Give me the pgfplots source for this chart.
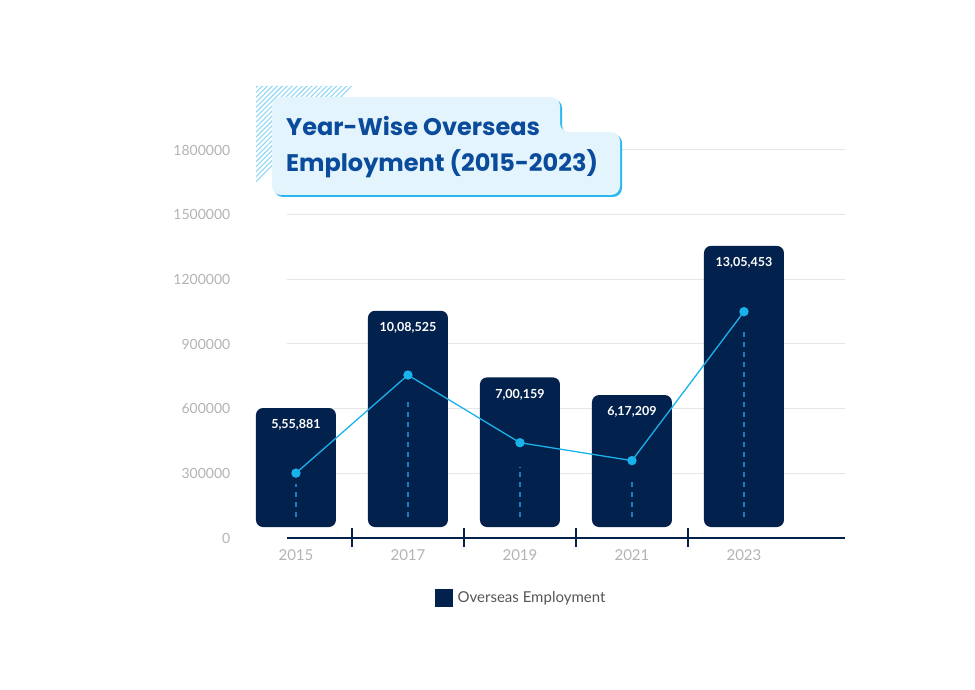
\documentclass[border=0pt]{standalone}
\usepackage{pgfplots}
\pgfplotsset{compat=1.18}
\usepackage{fontspec}
\setmainfont{Lato}
\newfontfamily\titlefont{Poppins}
\usetikzlibrary{patterns.meta}
\definecolor{navy}{HTML}{03214D}
\definecolor{linecyan}{HTML}{19B2EB}
\definecolor{dashblue}{HTML}{1C7DC0}
\definecolor{gridgray}{HTML}{E6E6E6}
\definecolor{ticklab}{HTML}{B3B3B3}
\definecolor{titleblue}{HTML}{0B4B9B}
\definecolor{boxfill}{HTML}{E4F4FD}
\definecolor{boxborder}{HTML}{2BB8EE}
\definecolor{hatch}{HTML}{8FD6F4}
\definecolor{legtext}{HTML}{555555}
\pgfplotstableread{
x top label
0 603000 5,55,881
1 1054000 10,08,525
2 745000 7,00,159
3 663000 6,17,209
4 1355000 13,05,453
}\bartable
\pgfplotstableread{
x y
0 301000
1 756000
2 442000
3 359000
4 1050000
}\linetable
\begin{document}
\begin{tikzpicture}[x=1pt,y=1pt]
\useasboundingbox (0,0) rectangle (975,690);
\begin{axis}[
  at={(287pt,152pt)}, anchor=south west,
  scale only axis, width=558pt, height=388pt,
  xmin=-0.08, xmax=4.902, ymin=0, ymax=1800000,
  clip=false,
  axis x line*=bottom, axis y line*=left,
  x axis line style={navy, line width=1.4pt},
  y axis line style={draw=none},
  ytick={0,300000,...,1800000},
  scaled y ticks=false,
  yticklabel style={/pgf/number format/fixed,/pgf/number format/1000 sep={}, font=\fontsize{14}{16}\selectfont, text=ticklab, xshift=-51pt},
  ytick style={draw=none},
  ymajorgrids, major grid style={gridgray, line width=1pt},
  xtick={0,1,2,3,4}, xticklabels={2015,2017,2019,2021,2023},
  major x tick style={draw=none},
  xticklabel style={font=\fontsize{15}{17}\selectfont, text=ticklab, yshift=-5.5pt},
  minor xtick={0.5,1.5,2.5,3.5},
  minor tick length=19pt, tick align=center,
  minor x tick style={navy, line width=1.2pt},
  /pgf/number format/assume math mode=true,
  legend style={at={(0.42,-0.1546)}, anchor=center, draw=none, fill=none,
    font=\fontsize{15}{17}\selectfont, text=legtext},
]
\addlegendimage{legend image code/.code={\fill[navy] (-2pt,-8.5pt) rectangle (15pt,8.5pt);}}
\addlegendentry{\hspace{3pt}Overseas Employment}
% bars
\addplot[fill=navy, draw=none, rounded corners=7pt, forget plot] coordinates {(-0.357,51000) (0.357,51000) (0.357,603000) (-0.357,603000)} -- cycle;
\addplot[fill=navy, draw=none, rounded corners=7pt, forget plot] coordinates {(0.643,51000) (1.357,51000) (1.357,1054000) (0.643,1054000)} -- cycle;
\addplot[fill=navy, draw=none, rounded corners=7pt, forget plot] coordinates {(1.643,51000) (2.357,51000) (2.357,745000) (1.643,745000)} -- cycle;
\addplot[fill=navy, draw=none, rounded corners=7pt, forget plot] coordinates {(2.643,51000) (3.357,51000) (3.357,663000) (2.643,663000)} -- cycle;
\addplot[fill=navy, draw=none, rounded corners=7pt, forget plot] coordinates {(3.643,51000) (4.357,51000) (4.357,1355000) (3.643,1355000)} -- cycle;
% dashed drop lines
\addplot[dashblue, line width=1.3pt, dash pattern=on 5pt off 5pt, forget plot] coordinates {(0,97000) (0,250000)};
\addplot[dashblue, line width=1.3pt, dash pattern=on 5pt off 5pt, forget plot] coordinates {(1,97000) (1,650000)};
\addplot[dashblue, line width=1.3pt, dash pattern=on 5pt off 5pt, forget plot] coordinates {(2,97000) (2,330000)};
\addplot[dashblue, line width=1.3pt, dash pattern=on 5pt off 5pt, forget plot] coordinates {(3,97000) (3,270000)};
\addplot[dashblue, line width=1.3pt, dash pattern=on 5pt off 5pt, forget plot] coordinates {(4,97000) (4,975000)};
% line
\addplot[linecyan, line width=1.3pt, mark=*, mark size=4pt, mark options={fill=linecyan, draw=none}, forget plot] table[x=x,y=y]{\linetable};
% bar labels
\addplot[draw=none, mark=none, forget plot, nodes near coords, point meta=explicit symbolic,
  every node near coord/.append style={anchor=center, yshift=-17pt, text=white, font=\bfseries\fontsize{12.5}{14}\selectfont}]
  table[x=x,y=top,meta=label]{\bartable};
\end{axis}
% title decoration
\fill[pattern={Lines[angle=45, distance=3.5pt, line width=1.1pt]}, pattern color=hatch]
  (256,604) -- (355,604) -- (256,505) -- cycle;
\fill[boxborder, rounded corners=9pt] (274,591) -- (562,591) -- (562,556) -- (622,556) -- (622,493) -- (274,493) -- cycle;
\fill[boxfill, rounded corners=9pt] (272,593) -- (560,593) -- (560,558) -- (620,558) -- (620,495) -- (272,495) -- cycle;
\node[anchor=base west, inner sep=0, text=titleblue, font=\titlefont\bfseries\fontsize{24}{28}\selectfont] at (286,554) {Year-Wise Overseas};
\node[anchor=base west, inner sep=0, text=titleblue, font=\titlefont\bfseries\fontsize{24}{28}\selectfont] at (286,518.5) {Employment (2015-2023)};
\end{tikzpicture}
\end{document}
